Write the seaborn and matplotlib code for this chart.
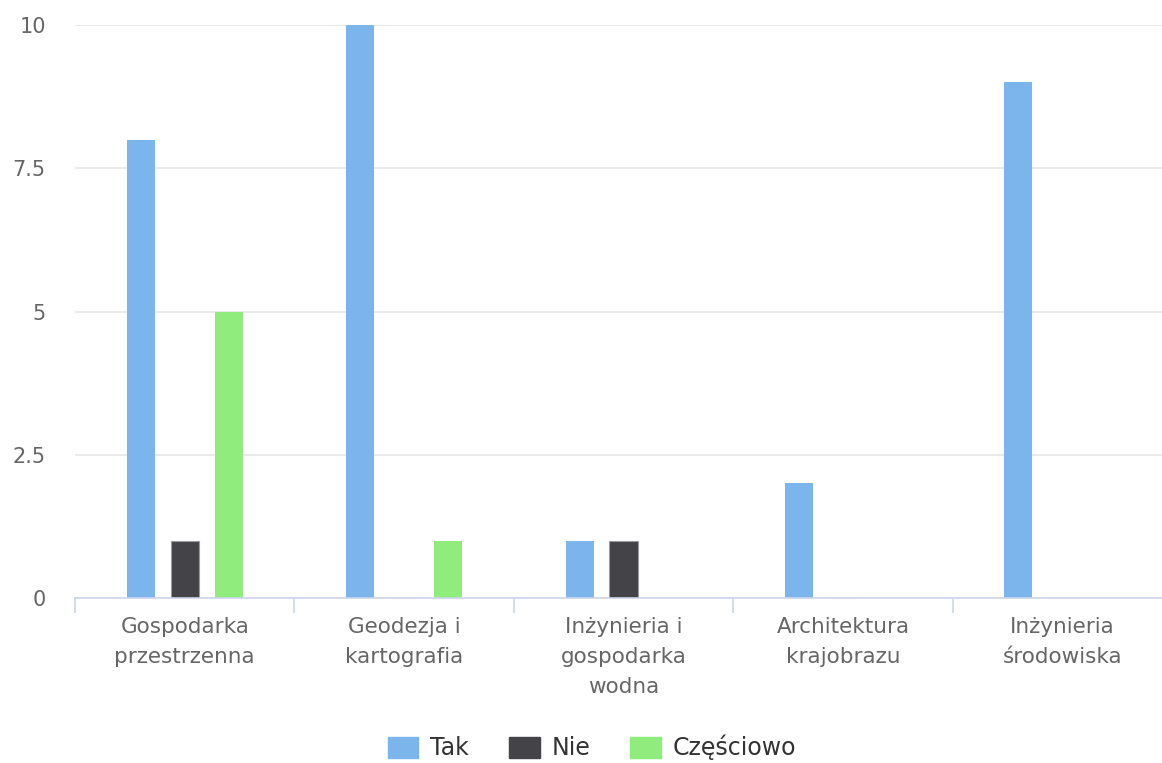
import pandas as pd
import matplotlib.pyplot as plt
import seaborn as sns
import numpy as np

# Data
categories = ["Gospodarka\nprzestrzenna", "Geodezja i\nkartografia",
              "Inżynieria i\ngospodarka\nwodna", "Architektura\nkrajobrazu",
              "Inżynieria\nśrodowiska"]
series = ["Tak", "Nie", "Częściowo"]
tak = [8, 10, 1, 2, 9]
nie = [1, 0, 1, 0, 0]
czesciowo = [5, 1, 0, 0, 0]
y_ticks = [0, 2.5, 5, 7.5, 10]
y_tick_labels = ["0", "2.5", "5", "7.5", "10"]

colors = ["#7cb5ec", "#434348", "#90ed7d"]

df = pd.DataFrame({
    "category": categories * 3,
    "series": [s for s in series for _ in categories],
    "value": tak + nie + czesciowo,
})

sns.set_style("white")
plt.rcParams['font.family'] = ['DejaVu Sans']

f = plt.figure(figsize=(11.62, 7.63), dpi=100)
ax = f.add_axes([75 / 1162, 165 / 763, 1097 / 1162, 573 / 763])

sns.barplot(data=df, x="category", y="value", hue="series", hue_order=series,
            palette=colors, order=categories, width=0.6, gap=0.36,
            linewidth=0, saturation=1, ax=ax, legend=False)

# thin light border on the dark bars, as in the original
for bar in ax.containers[1]:
    bar.set_edgecolor("#9a9a9e")
    bar.set_linewidth(0.8)

ax.set_ylim(0, 10)
ax.set_xlim(-0.5, len(categories) - 0.5)
ax.set_yticks(y_ticks)
ax.set_yticklabels(y_tick_labels)
ax.yaxis.grid(True, color="#e6e6e6", linewidth=1.2)
ax.set_axisbelow(True)
ax.set_xlabel("")
ax.set_ylabel("")

for s in ["top", "right", "left"]:
    ax.spines[s].set_visible(False)
ax.spines["bottom"].set_color("#ccd6eb")
ax.spines["bottom"].set_linewidth(1.2)

ax.tick_params(axis="y", length=0, pad=21, labelsize=15, labelcolor="#666666")
ax.tick_params(axis="x", which="major", length=0, pad=14, labelsize=15.5,
               labelcolor="#666666")
for lab in ax.get_xticklabels():
    lab.set_linespacing(1.6)
ax.set_xticks(np.arange(-0.5, len(categories), 1.0), minor=True)
ax.tick_params(axis="x", which="minor", bottom=True, length=11, width=1.2,
               color="#ccd6eb")

handles = [plt.Rectangle((0, 0), 1, 1, color=c) for c in colors]
f.legend(handles, series, loc="center", bbox_to_anchor=(0.5095, 0.02),
         ncol=3, frameon=False, fontsize=17, handlelength=1.3,
         handleheight=1.0, columnspacing=1.7, handletextpad=0.5,
         labelcolor="#333333")

plt.savefig("out.png", dpi=100)
